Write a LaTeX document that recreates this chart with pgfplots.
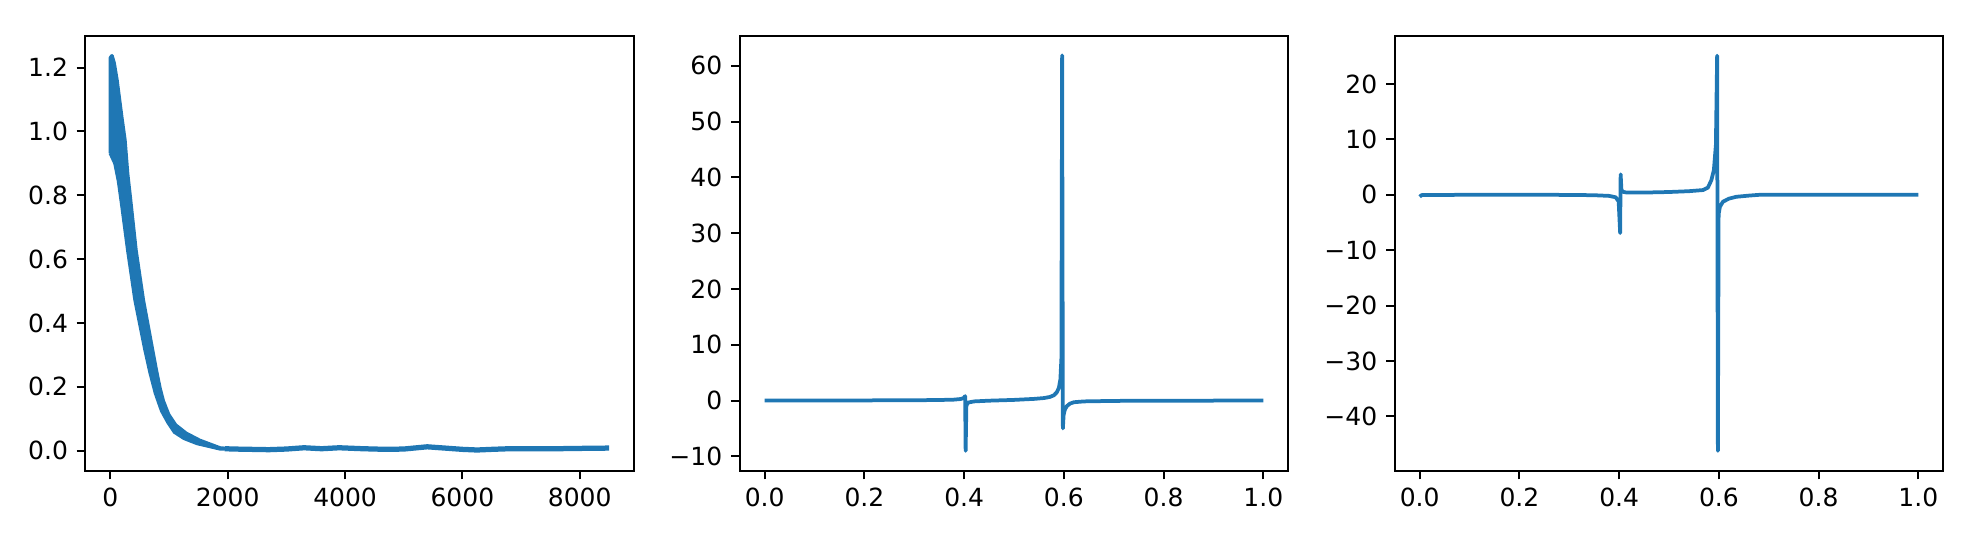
\documentclass[border=0pt]{standalone}
\usepackage{fontspec}
\setmainfont{DejaVu Sans}
\usepackage{pgfplots}
\pgfplotsset{compat=1.18}
\definecolor{c0}{HTML}{1F77B4}
\pgfplotsset{
  mpl/.style={
    scale only axis, width=219.4pt, height=174pt,
    anchor=south west,
    axis line style={line width=0.8pt, black},
    every tick/.style={line width=0.8pt, black},
    tick align=outside, major tick length=3.5pt,
    xtick pos=left, ytick pos=left,
    ticklabel style={font=\fontsize{10}{12}\selectfont},
    /pgf/number format/assume math mode=true,
    /pgf/number format/1000 sep={},
    clip=true,
  }
}
\begin{document}
\begin{tikzpicture}
\useasboundingbox (0,0) rectangle (792pt,216pt);
% ---------- panel 1 ----------
\begin{axis}[mpl, at={(34.2pt,27.7pt)},
  xmin=-425, xmax=8925, ymin=-0.063, ymax=1.300,
  xtick={0,2000,4000,6000,8000},
  ytick={0,0.2,0.4,0.6,0.8,1.0,1.2},
  yticklabels={0.0,0.2,0.4,0.6,0.8,1.0,1.2}]
\addplot[c0, fill=c0, line width=1.5pt, line join=round] coordinates {
  (0,0.932) (0,1.23) (25,1.237) (60,1.215) (110,1.16) (190,1.046)
  (245,0.973) (290,0.869) (341,0.785) (433,0.628) (558,0.472)
  (716,0.315) (780,0.252) (843,0.195) (900,0.155) (990,0.113)
  (1110,0.080) (1290,0.054) (1520,0.032) (1868,0.008) (2000,0.006)
  (1868,0.006) (1475,0.023) (1255,0.039) (1095,0.058) (985,0.088)
  (875,0.125) (770,0.180) (678,0.245) (593,0.315) (422,0.472)
  (298,0.628) (200,0.765) (140,0.845) (80,0.900) (0,0.932)
};
\addplot[c0, line width=2.1pt, line join=round] coordinates {
  (1950,0.006) (2100,0.005) (2400,0.004) (2700,0.003) (3000,0.005)
  (3300,0.009) (3600,0.006) (3900,0.009) (4300,0.006) (4700,0.004)
  (5000,0.005) (5400,0.012) (5700,0.008) (6000,0.004) (6250,0.002)
  (6500,0.004) (6800,0.006) (7200,0.006) (7600,0.006) (8000,0.007)
  (8500,0.008)
};
\end{axis}
% ---------- panel 2 ----------
\begin{axis}[mpl, at={(295.9pt,27.7pt)},
  xmin=-0.05, xmax=1.05, ymin=-12.58, ymax=65.4,
  xtick={0,0.2,0.4,0.6,0.8,1.0},
  xticklabels={0.0,0.2,0.4,0.6,0.8,1.0},
  ytick={-10,0,10,20,30,40,50,60},
  yticklabels={−10,0,10,20,30,40,50,60}]
\addplot[c0, line width=1.5pt, line join=round] coordinates {
  (0.000,0.00) (0.100,0.01) (0.200,0.03) (0.300,0.06) (0.350,0.10)
  (0.380,0.17) (0.393,0.28) (0.399,0.45) (0.4020,0.8) (0.4030,-9.0)
  (0.4045,-0.9) (0.408,-0.35) (0.420,-0.15) (0.450,-0.02) (0.500,0.12)
  (0.540,0.30) (0.560,0.45) (0.572,0.65) (0.580,0.95) (0.586,1.5)
  (0.590,2.3) (0.593,3.8) (0.5950,7.5) (0.5965,61.9) (0.5980,-5.0)
  (0.5995,-2.6) (0.602,-1.6) (0.606,-1.0) (0.612,-0.55) (0.620,-0.3)
  (0.640,-0.15) (0.700,-0.06) (0.800,-0.02) (1.000,0.00)
};
\end{axis}
% ---------- panel 3 ----------
\begin{axis}[mpl, at={(557.9pt,27.7pt)},
  xmin=-0.05, xmax=1.05, ymin=-49.8, ymax=28.7,
  xtick={0,0.2,0.4,0.6,0.8,1.0},
  xticklabels={0.0,0.2,0.4,0.6,0.8,1.0},
  ytick={-40,-30,-20,-10,0,10,20},
  yticklabels={−40,−30,−20,−10,0,10,20}]
\addplot[c0, line width=1.5pt, line join=round] coordinates {
  (0.000,-0.35) (0.004,-0.05) (0.100,0.00) (0.200,0.00) (0.300,-0.02)
  (0.350,-0.08) (0.380,-0.2) (0.393,-0.45) (0.399,-1.2) (0.4020,-6.9)
  (0.4030,3.7) (0.4045,1.0) (0.407,0.55) (0.415,0.4) (0.450,0.4)
  (0.500,0.5) (0.540,0.65) (0.568,0.85) (0.578,1.3) (0.585,2.65)
  (0.590,4.5) (0.594,9.0) (0.5965,25.1) (0.5980,-46.2) (0.5995,-3.5)
  (0.602,-2.2) (0.608,-1.26) (0.620,-0.7) (0.635,-0.36) (0.660,-0.15)
  (0.682,0.00) (0.800,0.00) (1.000,0.00)
};
\end{axis}
\end{tikzpicture}
\end{document}
